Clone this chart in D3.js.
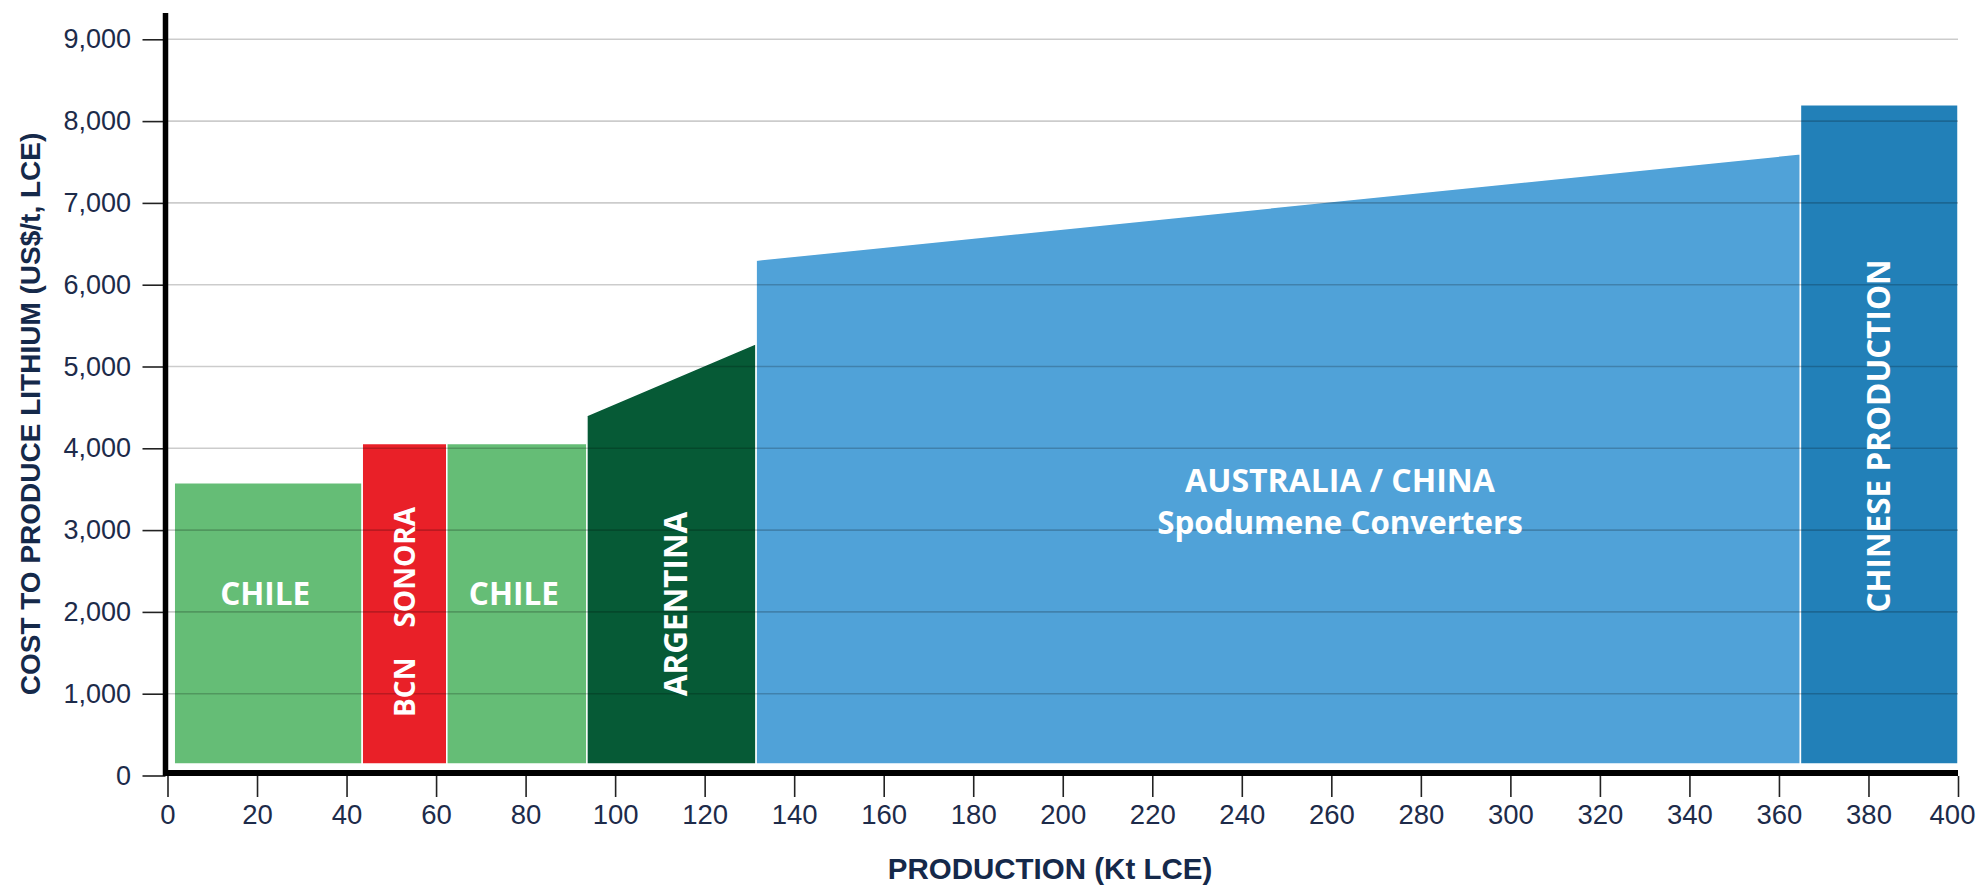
<!DOCTYPE html>
<html>
<head>
<meta charset="utf-8">
<script src="https://cdn.jsdelivr.net/npm/d3@7"></script>
<style>
  body { margin: 0; background: #fff; }
  svg { display: block; }
</style>
</head>
<body>
<div class="graph-container"></div>
<script>
// cost curve segments
const regions = ["CHILE", "BCN / SONORA", "CHILE", "ARGENTINA", "AUSTRALIA / CHINA", "CHINESE PRODUCTION"];
const prodFrom = [1.5, 43.5, 62.4, 93.7, 131.5, 364.8];
const prodTo = [43.5, 62.4, 93.7, 131.5, 364.8, 400];
const costLeft = [3580, 4060, 4060, 4400, 6300, 8200];
const costRight = [3580, 4060, 4060, 5280, 7600, 8200];

const xTicks = [0, 20, 40, 60, 80, 100, 120, 140, 160, 180, 200, 220, 240, 260, 280, 300, 320, 340, 360, 380, 400];
const yTicks = [0, 1000, 2000, 3000, 4000, 5000, 6000, 7000, 8000, 9000];

const colors = ["#65bd76", "#e92028", "#65bd76", "#065a36", "#50a2d8", "#2280b8"];

const dims = { width: 1981, height: 885 };
const navy = "#15294a";

const svg = d3.select(".graph-container")
  .append("svg")
  .attr("width", dims.width)
  .attr("height", dims.height);

const x = d3.scaleLinear().domain([0, 400]).range([167.5, 1958]);
const y = d3.scaleLinear().domain([0, 9000]).range([775.5, 39.3]);

const segs = regions.map((r, i) => ({
  name: r, x0: prodFrom[i], x1: prodTo[i], c0: costLeft[i], c1: costRight[i], color: colors[i]
}));

// bars sit a little above the axis line
const base = y(0) - 11.5;

svg.append("g").attr("class", "bars")
  .selectAll("path").data(segs).enter().append("path")
  .attr("d", d => `M${x(d.x0)},${base}L${x(d.x0)},${y(d.c0)}L${x(d.x1)},${y(d.c1)}L${x(d.x1)},${base}Z`)
  .attr("fill", d => d.color)
  .attr("stroke", "#fff")
  .attr("stroke-width", 1.5);

// gridlines over the bars
svg.append("g").attr("class", "grid")
  .selectAll("line").data(yTicks.filter(d => d > 0)).enter().append("line")
  .attr("x1", x(0) - 2).attr("x2", x(400))
  .attr("y1", d => y(d)).attr("y2", d => y(d))
  .attr("stroke", "#000").attr("stroke-opacity", 0.2).attr("stroke-width", 1.6);

// labels in the bars
const labelFont = "'Open Sans', sans-serif";
const lab = svg.append("g").attr("class", "labels")
  .attr("fill", "#fff").attr("font-family", labelFont).attr("font-weight", 700);

const mid = d => (x(d.x0) + x(d.x1)) / 2;

[0, 2].forEach(i => {
  lab.append("text").attr("x", mid(segs[i]) - 3).attr("y", 605)
    .attr("text-anchor", "middle").attr("font-size", 31.5).text(segs[i].name);
});

const bcn = lab.append("text")
  .attr("transform", `translate(${mid(segs[1]) + 10},612) rotate(-90)`)
  .attr("text-anchor", "middle").attr("font-size", 28);
bcn.append("tspan").text("BCN");
bcn.append("tspan").attr("dx", 30).text("SONORA");

lab.append("text")
  .attr("transform", `translate(${mid(segs[3]) + 15},604) rotate(-90)`)
  .attr("text-anchor", "middle").attr("font-size", 31.5).text(segs[3].name);

lab.append("text").attr("x", 1340).attr("y", 492)
  .attr("text-anchor", "middle").attr("font-size", 32).text(segs[4].name);
lab.append("text").attr("x", 1340).attr("y", 534)
  .attr("text-anchor", "middle").attr("font-size", 31.3).text("Spodumene Converters");

lab.append("text")
  .attr("transform", `translate(${mid(segs[5]) + 11},436) rotate(-90)`)
  .attr("text-anchor", "middle").attr("font-size", 31.5).text(segs[5].name);

// axes
const yAxis = d3.axisLeft(y).tickValues(yTicks).tickSize(23).tickPadding(11.5)
  .tickFormat(d3.format(","));
const gy = svg.append("g").attr("transform", "translate(165.5,0)").call(yAxis);

const xAxis = d3.axisBottom(x).tickValues(xTicks).tickSize(21).tickPadding(7);
const gx = svg.append("g").attr("transform", "translate(0,776)").call(xAxis);

[gx, gy].forEach(g => {
  g.select(".domain").remove();
  g.selectAll(".tick line").attr("stroke", "#222").attr("stroke-width", 1.6);
  g.selectAll(".tick text").attr("fill", "#1d2b4a")
    .attr("font-family", "'Liberation Sans', sans-serif");
});
gy.selectAll(".tick text").attr("font-size", 27);
gx.selectAll(".tick text").attr("font-size", 27.5);
// last label pulled in so it stays inside the frame
gx.selectAll(".tick text").filter(d => d === 400).attr("dx", -6);

// thick axis lines
svg.append("line").attr("x1", 165.5).attr("x2", 165.5).attr("y1", 13).attr("y2", 776)
  .attr("stroke", "#000").attr("stroke-width", 5.5);
svg.append("line").attr("x1", 163).attr("x2", x(400)).attr("y1", 773).attr("y2", 773)
  .attr("stroke", "#000").attr("stroke-width", 6);

// axis titles
svg.append("text")
  .attr("transform", "translate(40,414) rotate(-90)")
  .attr("text-anchor", "middle")
  .attr("font-family", "'Liberation Sans', Arial, sans-serif")
  .attr("font-weight", 700).attr("font-size", 28).attr("fill", navy)
  .text("COST TO PRODUCE LITHIUM (US$/t, LCE)");

svg.append("text")
  .attr("x", 1050).attr("y", 879)
  .attr("text-anchor", "middle")
  .attr("font-family", "'Liberation Sans', Arial, sans-serif")
  .attr("font-weight", 700).attr("font-size", 29.5).attr("fill", navy)
  .text("PRODUCTION (Kt LCE)");
</script>
</body>
</html>
